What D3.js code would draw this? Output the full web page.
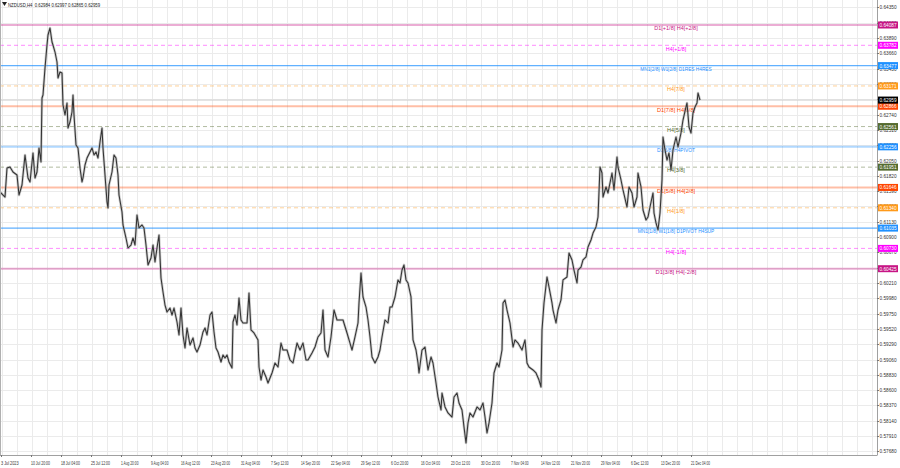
<!DOCTYPE html>
<html><head><meta charset="utf-8">
<script src="https://cdn.jsdelivr.net/npm/d3@7/dist/d3.min.js"></script>
<style>
body{margin:0;background:#fff;}
svg{display:block;font-family:"Liberation Sans",Arial,sans-serif;}
</style>
</head><body>
<svg id="chart" width="900" height="468"></svg>
<script>
const chartTitle = "NZDUSD,H4  0.62984 0.62997 0.62865 0.62959";

const barIndex = [0,5,7,10,13,17,19,22,25,28,30,33,35,37,39,41,42,43,45,47,48,50,52,53,55,57,58,60,62,63,65,67,68,70,72,73,74,76,78,80,82,83,85,87,90,92,94,96,98,100,102,103,105,107,108,109,112,114,116,118,119,122,123,126,128,131,133,135,137,139,142,144,146,148,151,153,155,157,159,161,163,165,167,170,172,174,177,179,181,183,185,187,190,193,195,197,200,203,205,207,210,212,214,216,218,221,223,225,227,229,232,233,235,237,239,241,243,247,249,251,254,258,259,261,263,266,268,272,275,278,281,283,287,290,293,297,300,303,306,308,312,315,318,321,323,325,328,331,334,337,340,343,347,350,352,355,358,359,361,363,366,368,370,372,375,378,380,382,385,388,390,392,395,398,400,402,404,406,408,411,413,416,418,419,422,425,428,431,433,436,438,441,442,445,448,452,454,457,459,462,464,466,468,470,473,477,480,483,485,487,489,492,494,497,499,502,503,505,507,510,513,515,518,522,525,527,529,533,536,539,541,542,544,547,549,552,553,556,558,561,563,567,569,572,574,577,578,581,583,586,588,591,593,596,598,600,602,603,606,608,612,614,617,618,621,623,627,629,632,634,637,638,641,643,646,648,650,653,654,656,658,660,662,663,665,667,669,671,673,676,678,681,683,686,687,689,691,693,695,697,698,700];

const closePrice = [0.61578,0.61502,0.61938,0.61953,0.61878,0.61833,0.61532,0.61683,0.62134,0.61788,0.61728,0.62164,0.61788,0.61878,0.62239,0.62028,0.62990,0.63035,0.63441,0.63786,0.63937,0.64042,0.63832,0.63786,0.63681,0.63531,0.63291,0.63381,0.63366,0.62885,0.62735,0.62915,0.62539,0.62629,0.62780,0.63035,0.62735,0.62284,0.62239,0.61938,0.61728,0.61788,0.61983,0.62088,0.62179,0.62239,0.62134,0.62179,0.62088,0.62329,0.62539,0.62239,0.61833,0.61427,0.61337,0.61683,0.61878,0.62134,0.62088,0.61833,0.61532,0.61277,0.61082,0.60886,0.60736,0.60781,0.60886,0.60781,0.61232,0.61037,0.61082,0.61037,0.60781,0.60481,0.60586,0.60781,0.60526,0.60736,0.60931,0.60285,0.60075,0.59879,0.59774,0.59834,0.59729,0.59834,0.59624,0.59429,0.59834,0.59429,0.59233,0.59534,0.59278,0.59384,0.59233,0.59173,0.59278,0.59474,0.59534,0.59429,0.59729,0.59774,0.59474,0.59233,0.59173,0.59023,0.59128,0.59083,0.59128,0.59023,0.58933,0.59624,0.59729,0.59579,0.59985,0.59654,0.59609,0.59609,0.60060,0.59504,0.59459,0.59354,0.58948,0.58752,0.58903,0.58797,0.58707,0.58858,0.59008,0.58948,0.59308,0.59203,0.59203,0.59053,0.59008,0.59308,0.59203,0.59308,0.59053,0.59053,0.59158,0.59248,0.59399,0.59459,0.59804,0.59203,0.59098,0.59399,0.59804,0.59654,0.59654,0.59654,0.59459,0.59308,0.59203,0.59399,0.59609,0.59910,0.60360,0.60000,0.59849,0.59654,0.59399,0.59098,0.59008,0.59098,0.59203,0.59399,0.59654,0.59609,0.59849,0.59849,0.60000,0.60256,0.60210,0.60405,0.60481,0.60256,0.60210,0.60000,0.59354,0.59203,0.59008,0.58858,0.59203,0.59248,0.58903,0.59098,0.59008,0.58707,0.58497,0.58302,0.58557,0.58347,0.58257,0.58196,0.58497,0.58557,0.58407,0.58302,0.58046,0.57806,0.58106,0.58257,0.58196,0.58347,0.58302,0.58407,0.58196,0.57956,0.58106,0.58407,0.58858,0.59008,0.58948,0.59203,0.59910,0.59955,0.59804,0.59609,0.59248,0.59354,0.59308,0.59203,0.59354,0.59008,0.58948,0.58903,0.58858,0.58752,0.58647,0.59504,0.59910,0.60300,0.60150,0.59910,0.59804,0.59609,0.59804,0.59955,0.60256,0.60300,0.60661,0.60556,0.60405,0.60210,0.60405,0.60450,0.60556,0.60601,0.60751,0.60856,0.60961,0.61052,0.61202,0.61953,0.61863,0.61502,0.61653,0.61563,0.61863,0.61608,0.62104,0.61953,0.61758,0.61608,0.61352,0.61653,0.61563,0.61352,0.61502,0.61863,0.61653,0.61307,0.61157,0.61202,0.61352,0.61563,0.61262,0.61112,0.61007,0.61262,0.61758,0.62404,0.62209,0.62058,0.62164,0.61908,0.62209,0.62404,0.62254,0.62464,0.62659,0.62855,0.62915,0.62554,0.62464,0.62765,0.62855,0.62915,0.63065,0.62959];

const priceTicks = [0.64350,0.64120,0.63890,0.63660,0.63430,0.63200,0.62970,0.62740,0.62510,0.62280,0.62050,0.61820,0.61590,0.61360,0.61130,0.60900,0.60670,0.60440,0.60210,0.59980,0.59750,0.59520,0.59290,0.59060,0.58830,0.58600,0.58370,0.58140,0.57910,0.57680];

const timeLabels = ["3 Jul 2023","10 Jul 20:00","18 Jul 04:00","25 Jul 12:00","1 Aug 20:00","9 Aug 04:00","16 Aug 12:00","23 Aug 20:00","31 Aug 04:00","7 Sep 12:00","14 Sep 20:00","22 Sep 04:00","29 Sep 12:00","6 Oct 20:00","16 Oct 04:00","23 Oct 12:00","30 Oct 20:00","7 Nov 04:00","14 Nov 12:00","21 Nov 20:00","29 Nov 04:00","6 Dec 12:00","13 Dec 20:00","21 Dec 04:00"];

const levelPrices = [0.64087,0.63782,0.63477,0.63171,0.62866,0.62561,0.62256,0.61951,0.61646,0.61340,0.61035,0.60730,0.60425];
const levelNames = ["D1[+1/8] H4[+2/8]","H4[+1/8]","MN1[2/8] W1[2/8] D1RES H4RES","H4[7/8]","D1[7/8] H4[6/8]","H4[5/8]","D1[6/8] H4PIVOT","H4[3/8]","D1[5/8] H4[2/8]","H4[1/8]","MN1[1/8] W1[1/8] D1PIVOT H4SUP","H4[-1/8]","D1[3/8] H4[-2/8]"];
const levelColors = ["#c71585","#ff00ff","#1e90ff","#ff9a1a","#ff4500","#556b2f","#1e90ff","#556b2f","#ff4500","#ff9a1a","#1e90ff","#ff00ff","#c71585"];
const levelKinds = ["D1","H4","MN","H4","D1","H4","D1","H4","D1","H4","MN","H4","D1"];
const currentPrice = 0.62959;

// ---------- layout ----------
const W = 900, H = 468;
const plot = {left:0, top:0, right:877, bottom:455};
const svg = d3.select("#chart");

const x = d3.scaleLinear().domain([0, 877]).range([plot.left, plot.right]);
const y = d3.scaleLinear().domain([0.576254, 0.644627]).range([plot.bottom, plot.top]);

svg.append("rect").attr("width", W).attr("height", H).attr("fill", "#ffffff");

// grid
const gridG = svg.append("g");
gridG.selectAll("line.h").data(priceTicks).join("line")
  .attr("x1", plot.left).attr("x2", plot.right)
  .attr("y1", d => Math.round(y(d)) + 0.5).attr("y2", d => Math.round(y(d)) + 0.5)
  .attr("stroke", "#ebebeb").attr("stroke-width", 1);
const vGrid = d3.range(0, 60).map(i => 1.5 + i * 15).filter(v => v < 877);
gridG.selectAll("line.v").data(vGrid).join("line")
  .attr("x1", d => Math.round(x(d)) + 0.5).attr("x2", d => Math.round(x(d)) + 0.5)
  .attr("y1", plot.top).attr("y2", plot.bottom)
  .attr("stroke", "#ebebeb").attr("stroke-width", 1);

// level lines
const levels = levelPrices.map((p, i) => ({p, name: levelNames[i], color: levelColors[i], kind: levelKinds[i]}));
const lvlG = svg.append("g");
lvlG.selectAll("line").data(levels).join("line")
  .attr("x1", plot.left).attr("x2", plot.right)
  .attr("y1", d => y(d.p)).attr("y2", d => y(d.p))
  .attr("stroke", d => d.color)
  .attr("stroke-opacity", d => d.kind === "MN" ? 0.7 : (d.kind === "D1" ? 0.35 : 0.45))
  .attr("stroke-width", d => d.kind === "H4" ? 1 : (d.kind === "MN" ? 1.3 : 2))
  .attr("stroke-dasharray", d => d.kind === "H4" ? "4,3" : null);

// bid line
svg.append("line").attr("x1", plot.left).attr("x2", plot.right)
  .attr("y1", y(currentPrice)).attr("y2", y(currentPrice))
  .attr("stroke", "#d0d0d0").attr("stroke-width", 1);

// price series
const series = barIndex.map((b, i) => ({b, p: closePrice[i]}));
const line = d3.line().x(d => x(d.b)).y(d => y(d.p));
svg.append("path").datum(series).attr("d", line)
  .attr("fill", "none").attr("stroke", "#a8a8a8").attr("stroke-width", 2.6)
  .attr("stroke-linejoin", "round").attr("stroke-opacity", 0.6);
svg.append("path").datum(series).attr("d", line)
  .attr("fill", "none").attr("stroke", "#333333").attr("stroke-width", 1.05)
  .attr("stroke-linejoin", "round");

// level text labels
lvlG.selectAll("text").data(levels).join("text")
  .attr("x", 676).attr("y", d => y(d.p) + 5.3)
  .attr("text-anchor", "middle").attr("font-size", 5.5)
  .attr("textLength", d => d.name.length * 2.55).attr("lengthAdjust", "spacingAndGlyphs")
  .attr("fill", d => d.color).text(d => d.name);

// frame
svg.append("line").attr("x1", plot.right + 0.5).attr("x2", plot.right + 0.5)
  .attr("y1", plot.top).attr("y2", plot.bottom).attr("stroke", "#a0a0a0");
svg.append("line").attr("x1", plot.left).attr("x2", plot.right + 0.5)
  .attr("y1", plot.bottom + 0.5).attr("y2", plot.bottom + 0.5).attr("stroke", "#a0a0a0");
svg.append("line").attr("x1", 0.5).attr("x2", 0.5)
  .attr("y1", plot.top).attr("y2", plot.bottom).attr("stroke", "#b0b0b0");

// right axis
const axisG = svg.append("g");
axisG.selectAll("line").data(priceTicks).join("line")
  .attr("x1", plot.right).attr("x2", plot.right + 2)
  .attr("y1", d => Math.round(y(d)) + 0.5).attr("y2", d => Math.round(y(d)) + 0.5)
  .attr("stroke", "#777");
axisG.selectAll("text").data(priceTicks).join("text")
  .attr("x", 879.5).attr("y", d => y(d) + 2)
  .attr("font-size", 5.5).attr("fill", "#333")
  .attr("textLength", 17).attr("lengthAdjust", "spacingAndGlyphs")
  .text(d => d.toFixed(5));

// price boxes for levels
const boxG = svg.append("g");
const allBoxes = levels.map(d => ({p: d.p, color: d.color})).concat([{p: currentPrice, color: "#000000"}]);
boxG.selectAll("rect").data(allBoxes).join("rect")
  .attr("x", 878).attr("y", d => y(d.p) - 3.5).attr("width", 20).attr("height", 7)
  .attr("fill", d => d.color);
boxG.selectAll("text").data(allBoxes).join("text")
  .attr("x", 879.5).attr("y", d => y(d.p) + 2)
  .attr("font-size", 5.5).attr("fill", "#ffffff")
  .attr("textLength", 17).attr("lengthAdjust", "spacingAndGlyphs")
  .text(d => d.p.toFixed(5));

// bottom time axis
const timeG = svg.append("g");
const tickBars = timeLabels.map((t, i) => 1 + i * 30);
timeG.selectAll("line").data(tickBars).join("line")
  .attr("x1", d => Math.round(x(d)) + 0.5).attr("x2", d => Math.round(x(d)) + 0.5)
  .attr("y1", plot.bottom).attr("y2", plot.bottom + 2).attr("stroke", "#777");
timeG.selectAll("text").data(timeLabels).join("text")
  .attr("x", (d, i) => x(tickBars[i])).attr("y", 465)
  .attr("font-size", 5.5).attr("fill", "#333")
  .attr("textLength", d => d.length >= 12 ? 19 : 17.5).attr("lengthAdjust", "spacingAndGlyphs")
  .text(d => d);

// title
svg.append("path").attr("d", "M2,2 L7,2 L4.5,6 Z").attr("fill", "#222");
svg.append("text").attr("x", 8).attr("y", 6.5).attr("font-size", 5.8)
  .attr("fill", "#222").attr("xml:space", "preserve")
  .attr("textLength", 92).attr("lengthAdjust", "spacingAndGlyphs")
  .text(chartTitle);
</script>
</body></html>
